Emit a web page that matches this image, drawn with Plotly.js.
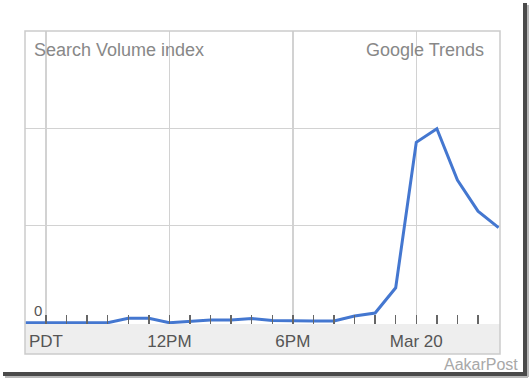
<!DOCTYPE html>
<html>
<head>
<meta charset="utf-8">
<script src="https://cdn.plot.ly/plotly-3.0.1.min.js"></script>
<style>
  html, body { margin: 0; padding: 0; background: #ffffff; }
  #chart { width: 529px; height: 378px; }
</style>
</head>
<body>
<div id="chart"></div>
<script>
// Hours relative to 6 AM PDT, Mar 19 (0 = 6AM, 18 = Mar 20 midnight)
const hours = [-1, 0, 1, 2, 3, 4, 5, 6, 7, 8, 9, 10, 11, 12, 13, 14, 15, 16, 17, 18, 19, 20, 21, 22];
// Search volume index (1 unit = one horizontal gridline)
const volume = [0, 0, 0, 0, 0, 0.045, 0.045, 0.0, 0.012, 0.028, 0.028, 0.043, 0.023, 0.018, 0.018, 0.018, 0.069, 0.10, 0.36, 1.86, 2.0, 1.47, 1.15, 0.98];

const xTickVals = [0, 6, 12, 18];
const xTickText = ['PDT', '12PM', '6PM', 'Mar 20'];
const hourTicks = [0, 1, 2, 3, 4, 5, 6, 7, 8, 9, 10, 11, 12, 13, 14, 15, 16, 17, 18, 19, 20, 21];
const yTickVals = [0];
const yTickText = ['0'];

const L = 25, R = 500, T = 31, B = 324, W = 529, H = 378;
const px = v => (v - L) / (R - L);
const py = v => (B - v) / (B - T);

const trace = {
  x: hours, y: volume, type: 'scatter', mode: 'lines',
  line: { color: '#4477d0', width: 3 },
  hoverinfo: 'skip'
};

const layout = {
  width: W, height: H,
  margin: { l: L, r: W - R, t: T, b: H - B, pad: 0 },
  paper_bgcolor: '#ffffff', plot_bgcolor: '#ffffff',
  showlegend: false,
  font: { family: 'Liberation Sans, Arial, sans-serif', color: '#555555', size: 17 },
  xaxis: {
    range: [-1.02, 22.07],
    tickmode: 'array', tickvals: xTickVals, ticktext: xTickText,
    ticks: 'inside', ticklen: 9, tickwidth: 1.5, tickcolor: '#666666',
    ticklabelstandoff: 5,
    showgrid: true, gridcolor: '#d2d2d2', gridwidth: 1.5,
    zeroline: false, showline: false,
    tickfont: { size: 17, color: '#555555' },
    minor: { tickmode: 'array', tickvals: hourTicks, ticks: 'inside', ticklen: 9, tickwidth: 1.5, tickcolor: '#666666', showgrid: false },
    fixedrange: true
  },
  yaxis: {
    range: [-0.013, 3.007],
    tickmode: 'array', tickvals: [1, 2],
    showticklabels: false, ticks: '',
    showgrid: true, gridcolor: '#d2d2d2', gridwidth: 1.5,
    zeroline: false, showline: false,
    fixedrange: true
  },
  shapes: [
    // axis band
    { type: 'rect', xref: 'paper', yref: 'paper', x0: 0, x1: 1, y0: py(354), y1: 0, fillcolor: '#eeeeee', line: { width: 0 }, layer: 'below' },
    // frame
    { type: 'rect', xref: 'paper', yref: 'paper', x0: 0, x1: 1, y0: py(354), y1: 1, line: { color: '#cbcbcb', width: 1.5 }, layer: 'above' },
    // drop shadow
    { type: 'rect', xref: 'paper', yref: 'paper', x0: px(523), x1: px(527), y0: py(376), y1: py(3), fillcolor: '#4a4a4a', line: { width: 0 } },
    { type: 'rect', xref: 'paper', yref: 'paper', x0: px(527), x1: px(529), y0: py(377), y1: py(5), fillcolor: '#b8b8b8', line: { width: 0 } },
    { type: 'rect', xref: 'paper', yref: 'paper', x0: px(3), x1: px(527), y0: py(376), y1: py(372), fillcolor: '#4a4a4a', line: { width: 0 } },
    { type: 'rect', xref: 'paper', yref: 'paper', x0: px(5), x1: px(528), y0: py(378), y1: py(376), fillcolor: '#b8b8b8', line: { width: 0 } }
  ],
  annotations: [
    { text: yTickText[0], xref: 'paper', yref: 'y', x: px(38), y: yTickVals[0], xanchor: 'center', yanchor: 'bottom', yshift: 2, showarrow: false, font: { size: 15, color: '#555555' } },
    { text: 'Search Volume index', xref: 'paper', yref: 'paper', x: px(32), y: py(50), xanchor: 'left', yanchor: 'middle', showarrow: false, font: { size: 18, color: '#888888' } },
    { text: 'Google Trends', xref: 'paper', yref: 'paper', x: px(486), y: py(50), xanchor: 'right', yanchor: 'middle', showarrow: false, font: { size: 18, color: '#888888' } },
    { text: 'AakarPost', xref: 'paper', yref: 'paper', x: px(520), y: py(364), xanchor: 'right', yanchor: 'middle', showarrow: false, font: { size: 16, color: '#a8a8a8' } }
  ]
};

Plotly.newPlot('chart', [trace], layout, { displayModeBar: false, staticPlot: true });
</script>
</body>
</html>
